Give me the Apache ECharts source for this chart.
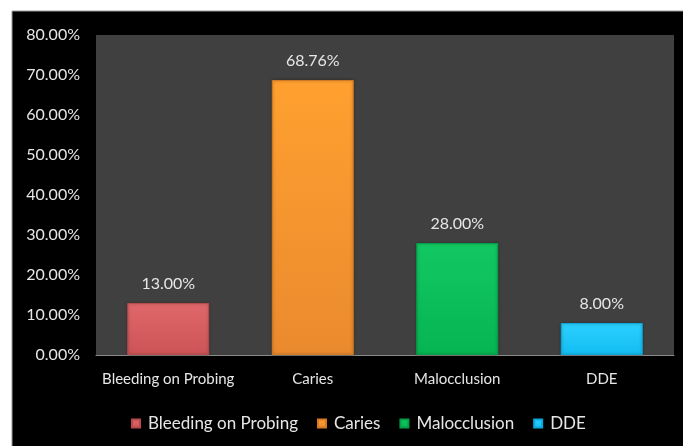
<!DOCTYPE html>
<html>
<head>
<meta charset="utf-8">
<script src="https://cdn.jsdelivr.net/npm/echarts@6/dist/echarts.min.js"></script>
<style>
  html, body { margin: 0; padding: 0; background: #ffffff; }
  #chart { width: 683px; height: 446px; }
</style>
</head>
<body>
<div id="chart"></div>
<script>
// Oral health findings, percentage of children affected
const categories = ['Bleeding on Probing', 'Caries', 'Malocclusion', 'DDE'];
const values = [13.00, 68.76, 28.00, 8.00];
const yTicks = [0, 10, 20, 30, 40, 50, 60, 70, 80];

// top / bottom shades for each bar
const barTop = ['#e0686a', '#ffa030', '#12c862', '#2cd0ff'];
const barBottom = ['#cc5457', '#ea8a2e', '#05b552', '#12bdf2'];
const edge = ['#b84a4c', '#d77a22', '#04a048', '#0aa8dc'];

function fillFor(i) {
  return new echarts.graphic.LinearGradient(0, 0, 0, 1, [
    { offset: 0, color: barTop[i] },
    { offset: 1, color: barBottom[i] }
  ]);
}

const chart = echarts.init(document.getElementById('chart'));
const font = 'Lato, "Open Sans", sans-serif';
const txt = '#e6e6e6';

const series = categories.map((name, i) => ({
  name: name,
  type: 'bar',
  stack: 'one',
  barWidth: 82,
  data: categories.map((c, j) => (j === i ? values[i] : '-')),
  itemStyle: {
    color: fillFor(i),
    borderColor: edge[i],
    borderWidth: 1,
    shadowColor: 'rgba(0,0,0,0.35)',
    shadowBlur: 3
  },
  label: {
    show: true,
    position: 'top',
    distance: 11,
    color: txt,
    fontFamily: font,
    fontSize: 16,
    formatter: p => p.value.toFixed(2) + '%'
  }
}));

chart.setOption({
  backgroundColor: '#ffffff',
  animation: false,
  graphic: [{
    type: 'rect',
    z: -10,
    shape: { x: 12, y: 11, width: 680, height: 450 },
    style: { fill: '#000000', stroke: '#9a9a9a', lineWidth: 1 }
  }],
  grid: {
    left: 96, right: 9, top: 35, bottom: 91,
    show: true, backgroundColor: '#404040', borderWidth: 0
  },
  legend: {
    top: 410,
    left: 126,
    itemWidth: 8,
    itemHeight: 8,
    itemGap: 19,
    icon: 'rect',
    textStyle: { color: txt, fontFamily: font, fontSize: 17, padding: [0, 0, 0, 3] },
    data: categories
  },
  xAxis: {
    type: 'category',
    data: categories,
    axisLine: { show: true, lineStyle: { color: '#8a8a8a', width: 1 } },
    axisTick: { show: false },
    axisLabel: { color: txt, fontFamily: font, fontSize: 15, margin: 17, interval: 0 }
  },
  yAxis: {
    type: 'value',
    min: yTicks[0],
    max: yTicks[yTicks.length - 1],
    interval: 10,
    splitLine: { show: false },
    axisLine: { show: false },
    axisTick: { show: false },
    axisLabel: {
      color: txt, fontFamily: font, fontSize: 16, margin: 16,
      formatter: v => v.toFixed(2) + '%'
    }
  },
  series: series
});
</script>
</body>
</html>
